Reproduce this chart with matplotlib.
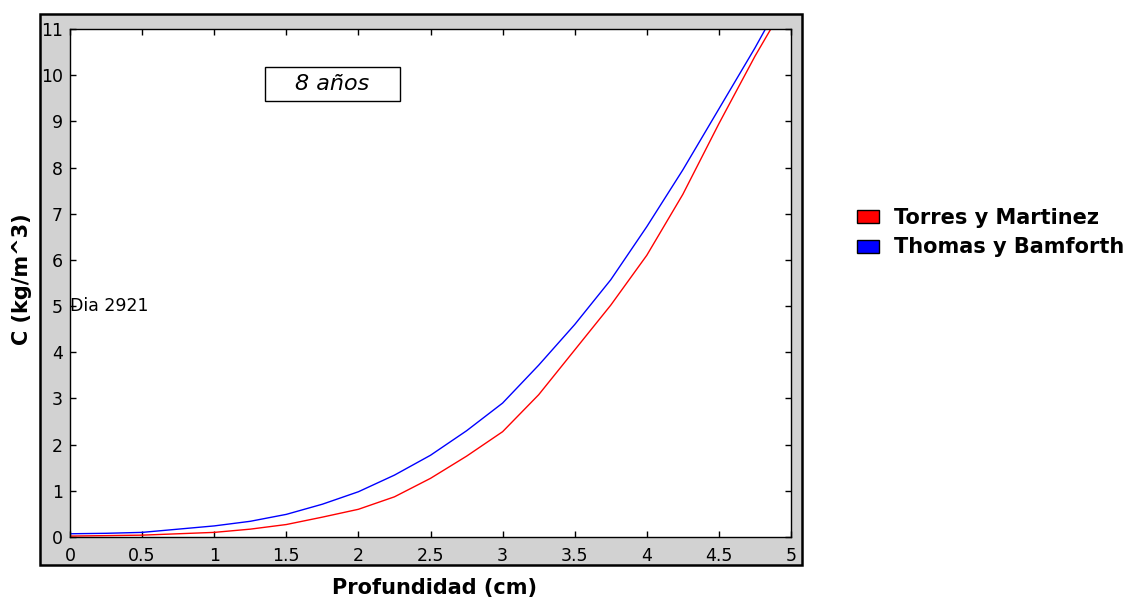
import numpy as np
import matplotlib
matplotlib.use('Agg')
import matplotlib.pyplot as plt
from matplotlib.patches import Rectangle, Patch

''' data read from the reference '''
depth = [0, 0.25, 0.5, 0.75, 1, 1.25, 1.5, 1.75, 2, 2.25, 2.5,
         2.75, 3, 3.25, 3.5, 3.75, 4, 4.25, 4.5, 4.75, 5.0]
c_torres = [0.02, 0.03, 0.04, 0.07, 0.10, 0.17, 0.27, 0.43, 0.60, 0.87, 1.27,
            1.75, 2.28, 3.08, 4.05, 5.02, 6.10, 7.42, 8.95, 10.41, 11.75]
c_thomas = [0.07, 0.08, 0.10, 0.17, 0.24, 0.34, 0.49, 0.71, 0.98, 1.34, 1.77,
            2.30, 2.90, 3.72, 4.60, 5.57, 6.72, 7.95, 9.27, 10.59, 12.0]
labels = ['Torres y Martinez', 'Thomas y Bamforth']
colors = ['#ff0000', '#0000ff']
xticks = [0, 0.5, 1, 1.5, 2, 2.5, 3, 3.5, 4, 4.5, 5]
xticklabels = ['0', '0.5', '1', '1.5', '2', '2.5', '3', '3.5', '4', '4.5', '5']
yticks = list(range(0, 12))

W, H = 1143, 601
fig = plt.figure(figsize=(W / 100, H / 100), dpi=100)

''' gray frame behind the axes '''
frame = Rectangle((40 / W, 1 - 565 / H), 762 / W, 551 / H, transform=fig.transFigure,
                  facecolor='#d2d2d2', edgecolor='black', linewidth=1.8, zorder=-1)
fig.patches.append(frame)

ax = fig.add_axes([70 / W, 1 - 537 / H, 721 / W, 508 / H])
ax.set_zorder(1)
ax.set_facecolor('white')
ax.plot(depth, c_torres, color=colors[0], linewidth=1.0)
ax.plot(depth, c_thomas, color=colors[1], linewidth=1.0)
ax.set_xlim(0, 5)
ax.set_ylim(0, 11)
ax.set_xticks(xticks)
ax.set_xticklabels(xticklabels)
ax.set_yticks(yticks)
ax.tick_params(direction='in', length=4, width=1, top=True, right=True,
               labelsize=12.5, colors='black')
ax.tick_params(axis='x', pad=7)
ax.tick_params(axis='y', pad=5)
for s in ax.spines.values():
    s.set_linewidth(1.0)

ax.text(0, 5, 'Dia 2921', fontsize=12.5, ha='left', va='center')

''' "8 años" box '''
ax.add_patch(Rectangle((0.2705, 0.858), 0.187, 0.067, transform=ax.transAxes,
                       facecolor='white', edgecolor='black', linewidth=1.0))
ax.text(0.364, 0.8915, '8 años', transform=ax.transAxes, fontsize=16,
        style='italic', ha='center', va='center')

fig.text(434 / W, 1 - 588 / H, 'Profundidad (cm)', fontsize=15, fontweight='bold',
         ha='center', va='center')
fig.text(22 / W, 1 - 279 / H, 'C (kg/m^3)', fontsize=15, fontweight='bold',
         ha='center', va='center', rotation=90)

handles = [Patch(facecolor=c, edgecolor='black', linewidth=1.0) for c in colors]
fig.legend(handles, labels, loc='upper left', bbox_to_anchor=(857 / W, 1 - 208 / H),
           frameon=False, borderpad=0, borderaxespad=0, handlelength=1.05,
           handleheight=0.58, handletextpad=0.75, labelspacing=0.45,
           prop={'size': 15, 'weight': 'bold'})

fig.savefig('out.png', dpi=100)
